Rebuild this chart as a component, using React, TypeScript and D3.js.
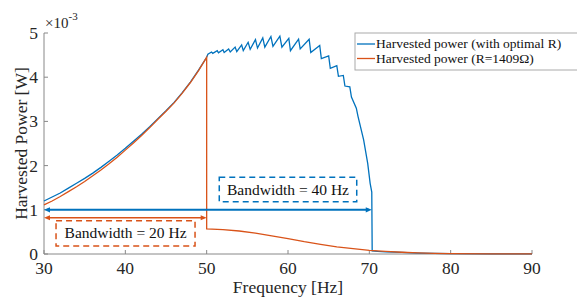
import * as d3 from "d3";

const W = 577;
const H = 297;

const freqTicks = [30, 40, 50, 60, 70, 80, 90];
const powerTicks = [0, 1, 2, 3, 4, 5];

// harvested power in units of 1e-3 W
const optimalFreq = [
  30, 31, 32, 33, 34, 35, 36, 37, 38, 39, 40, 41, 42, 43, 44, 45, 46, 47, 48, 49, 50,
  50.15, 50.6, 50.75, 51.3, 51.45, 52.0, 52.15, 52.7, 52.9, 53.5, 53.7, 54.3, 54.5,
  55.1, 55.35, 56.0, 56.25, 56.9, 57.15, 57.9, 58.15, 59.0, 59.25, 60.1, 60.3, 61.3,
  61.5, 62.6, 62.8, 63.9, 64.1, 65.0, 65.2, 66.0, 66.2, 66.8, 67.0, 67.6, 67.8, 68.4,
  68.6, 69.3, 69.8, 70.1, 70.3, 70.35, 71, 72, 74, 76, 78, 80, 85, 90,
];
const optimalPower = [
  1.2, 1.29, 1.38, 1.49, 1.6, 1.71, 1.83, 1.96, 2.1, 2.24, 2.39, 2.55, 2.71, 2.88, 3.06,
  3.24, 3.43, 3.65, 3.89, 4.16, 4.45,
  4.52, 4.57, 4.54, 4.6, 4.55, 4.62, 4.56, 4.64, 4.57, 4.68, 4.58, 4.73, 4.6,
  4.79, 4.63, 4.85, 4.66, 4.89, 4.68, 4.92, 4.7, 4.93, 4.68, 4.88, 4.6, 4.86,
  4.64, 4.86, 4.56, 4.72, 4.42, 4.48, 4.2, 4.26, 4.02, 4.04, 3.8, 3.78, 3.55, 3.3,
  3.12, 2.58, 2.05, 1.6, 1.4, 0.07, 0.06, 0.05, 0.035, 0.02, 0.012, 0.008, 0.004, 0.002,
];

const fixedFreq = [
  30, 31, 32, 33, 34, 35, 36, 37, 38, 39, 40, 41, 42, 43, 44, 45, 46, 47, 48, 49, 50,
  50, 52, 54, 56, 58, 60, 62, 64, 66, 68, 70, 72, 74, 76, 78, 80, 85, 90,
];
const fixedPower = [
  1.11, 1.2, 1.3, 1.41, 1.52, 1.64, 1.77, 1.9, 2.04, 2.19, 2.35, 2.51, 2.68, 2.86, 3.05,
  3.23, 3.42, 3.64, 3.88, 4.15, 4.45,
  0.57, 0.55, 0.52, 0.47, 0.41, 0.35, 0.28, 0.22, 0.16, 0.12, 0.08, 0.06, 0.04, 0.025,
  0.015, 0.01, 0.005, 0.003,
];

const legendLabels = ["Harvested power (with optimal R)", "Harvested power (R=1409\u03A9)"];
const bandLabels = ["Bandwidth = 40 Hz", "Bandwidth = 20 Hz"];
// bandwidth arrows: start Hz, end Hz, level (1e-3 W)
const bandArrows = [
  [30, 70.3, 1.0],
  [30, 50, 0.82],
];
// label boxes: f0, f1, p0, p1
const bandBoxes = [
  [51.55, 68.45, 1.18, 1.735],
  [31.48, 48.57, 0.18, 0.75],
];

const BLUE = "#0072BD";
const ORANGE = "#D95319";
const FONT = "'Liberation Serif', 'Times New Roman', serif";

export default function App() {
  const x = d3.scaleLinear().domain([30, 90]).range([44, 532]);
  const y = d3.scaleLinear().domain([0, 5]).range([254, 33]);

  const optPath = d3.line<number>()
    .x((_, i) => x(optimalFreq[i]))
    .y((d) => y(d))(optimalPower);
  const fixPath = d3.line<number>()
    .x((_, i) => x(fixedFreq[i]))
    .y((d) => y(d))(fixedPower);

  const colors = [BLUE, ORANGE];

  const arrow = (a: number[], color: string, w: number) => {
    const x0 = x(a[0]);
    const x1 = x(a[1]);
    const yy = y(a[2]);
    const L = 6;
    const hw = 2.6;
    return (
      <g>
        <line x1={x0 + 3} x2={x1 - 3} y1={yy} y2={yy} stroke={color} strokeWidth={w} />
        <path d={`M${x0},${yy}L${x0 + L},${yy - hw}L${x0 + L},${yy + hw}Z`} fill={color} />
        <path d={`M${x1},${yy}L${x1 - L},${yy - hw}L${x1 - L},${yy + hw}Z`} fill={color} />
      </g>
    );
  };

  return (
    <svg
      width={W}
      height={H}
      style={{ position: "absolute", left: 0, top: 0, background: "#fff" }}
      fontFamily={FONT}
    >
      <rect width={W} height={H} fill="#fff" />
      {/* axes */}
      <line x1={x(30)} x2={x(90)} y1={y(0)} y2={y(0)} stroke="#888" />
      <line x1={x(30)} x2={x(30)} y1={y(0)} y2={y(5)} stroke="#888" />
      {freqTicks.map((t) => (
        <g key={"xt" + t}>
          <line x1={x(t)} x2={x(t)} y1={y(0)} y2={y(0) - 4} stroke="#888" />
          <text x={x(t)} y={274} textAnchor="middle" fontSize={17.5} fill="#262626">
            {t}
          </text>
        </g>
      ))}
      {powerTicks.map((t) => (
        <g key={"yt" + t}>
          <line x1={x(30)} x2={x(30) + 4} y1={y(t)} y2={y(t)} stroke="#888" />
          <text x={38} y={y(t) + 6} textAnchor="end" fontSize={17.5} fill="#262626">
            {t}
          </text>
        </g>
      ))}
      <text x={45} y={28} fontSize={15} fill="#262626">
        ×10
        <tspan fontSize={11} dy={-8}>-3</tspan>
      </text>
      <text x={288} y={293} textAnchor="middle" fontSize={17.5} fill="#262626">
        Frequency [Hz]
      </text>
      <text
        transform={`translate(27,${(y(0) + y(5)) / 2}) rotate(-90)`}
        textAnchor="middle"
        fontSize={17.5}
        fill="#262626"
      >
        Harvested Power [W]
      </text>

      {/* curves */}
      <path d={optPath ?? ""} fill="none" stroke={BLUE} strokeWidth={1.3} />
      <path d={fixPath ?? ""} fill="none" stroke={ORANGE} strokeWidth={1.3} />

      {/* bandwidth annotations */}
      {bandArrows.map((a, i) => (
        <g key={"ar" + i}>{arrow(a, colors[i], i === 0 ? 2 : 1.5)}</g>
      ))}
      {bandBoxes.map((b, i) => (
        <g key={"bx" + i}>
          <rect
            x={x(b[0])}
            y={y(b[3])}
            width={x(b[1]) - x(b[0])}
            height={y(b[2]) - y(b[3])}
            fill="none"
            stroke={colors[i]}
            strokeWidth={1.5}
            strokeDasharray="6,4"
          />
          <text
            x={(x(b[0]) + x(b[1])) / 2}
            y={(y(b[2]) + y(b[3])) / 2 + 5}
            textAnchor="middle"
            fontSize={15.5}
            fill="#111"
          >
            {bandLabels[i]}
          </text>
        </g>
      ))}

      {/* legend */}
      <rect x={355} y={33} width={230} height={37} fill="#fff" stroke="#aaa" strokeWidth={1} />
      {legendLabels.map((l, i) => (
        <g key={"lg" + i}>
          <line x1={357} x2={375} y1={44 + i * 14.5} y2={44 + i * 14.5} stroke={colors[i]} strokeWidth={1.3} />
          <text x={376} y={48 + i * 14.5} fontSize={13.5} fill="#111">
            {l}
          </text>
        </g>
      ))}
    </svg>
  );
}
